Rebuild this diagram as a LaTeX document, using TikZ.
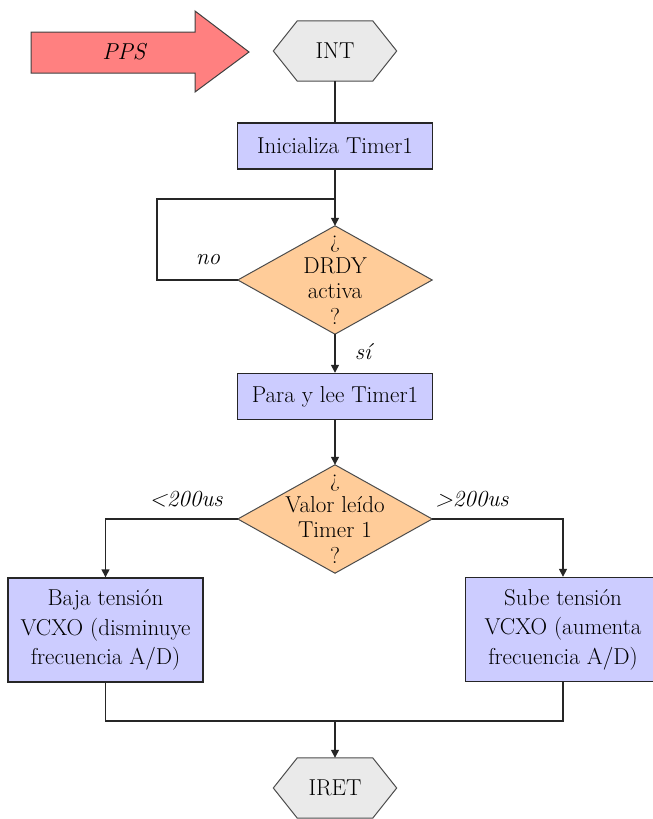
\documentclass[tikz,border=0pt]{standalone}
\usepackage{fontspec}
\usetikzlibrary{arrows.meta,backgrounds}
\definecolor{procblue}{HTML}{CCCCFF}
\definecolor{decorange}{HTML}{FFCC99}
\definecolor{hexgray}{HTML}{EAEAEA}
\definecolor{ppsred}{HTML}{FF8080}
\tikzset{
  conn/.style={draw=black!85, line width=1.4pt},
  arr/.style={conn, -{Triangle[length=8pt,width=8pt]}},
  proc/.style={draw=black!85, line width=1.4pt, fill=procblue, inner sep=0pt,
    minimum width=195pt, minimum height=46pt, align=center},
  bigproc/.style={proc, minimum height=104pt},
  decnode/.style={inner sep=0pt, minimum width=194pt, minimum height=108pt, align=center,
    font=\rmfamily\fontsize{23}{25.5}\selectfont},
  decshape/.style={draw=black!70, line width=1pt, fill=decorange},
  hexnode/.style={inner sep=0pt, minimum width=123pt, minimum height=60pt},
  hexshape/.style={draw=black!70, line width=1pt, fill=hexgray},
  lbl/.style={font=\rmfamily\fontsize{23}{25}\selectfont\itshape, inner sep=0pt}
}
\begin{document}
\begin{tikzpicture}[x=1pt,y=-1pt,font=\rmfamily\fontsize{23}{29.5}\selectfont]
\clip (0,0) rectangle (653,819);
% PPS arrow
\node[lbl] (pps) at (124,52) {PPS};
% INT
\node[hexnode] (int) at (335,51) {INT};
\node[proc] (init) at (335,146) {Inicializa Timer1};
\node[decnode] (d1) at (335,280) {¿\\DRDY\\activa\\?};
\node[proc] (para) at (335,396.5) {Para y lee Timer1};
\node[decnode] (d2) at (335,519) {¿\\Valor leído\\Timer 1\\?};
\node[bigproc] (baja) at (105.5,630) {Baja tensión\\VCXO (disminuye\\frecuencia A/D)};
\node[bigproc] (sube) at (563,629.5) {Sube tensión\\VCXO (aumenta\\frecuencia A/D)};
\node[hexnode] (iret) at (335,788) {IRET};
\coordinate (loopc) at (157,199);
\coordinate (join) at (335,199);
\coordinate (merge) at (335,721);
\begin{scope}[on background layer]
  \path[draw=black!75, line width=1pt, fill=ppsred]
    (31,32) -- (195,32) -- (195,11) -- (249,52) -- (195,92) -- (195,73) -- (31,73) -- cycle;
  \path[hexshape] (int.west) -- ([xshift=24pt]int.north west) -- ([xshift=-24pt]int.north east)
    -- (int.east) -- ([xshift=-24pt]int.south east) -- ([xshift=24pt]int.south west) -- cycle;
  \path[hexshape] (iret.west) -- ([xshift=24pt]iret.north west) -- ([xshift=-24pt]iret.north east)
    -- (iret.east) -- ([xshift=-24pt]iret.south east) -- ([xshift=24pt]iret.south west) -- cycle;
  \path[decshape] (d1.north) -- (d1.east) -- (d1.south) -- (d1.west) -- cycle;
  \path[decshape] (d2.north) -- (d2.east) -- (d2.south) -- (d2.west) -- cycle;
\end{scope}
% connectors
\draw[conn] (int.south) -- (init.north);
\draw[arr] (init.south) -- (d1.north);
\draw[conn] (d1.west) -| (loopc) -- (join);
\draw[arr] (d1.south) -- (para.north);
\draw[arr] (para.south) -- (d2.north);
\draw[arr] (d2.west) -| (baja.north);
\draw[arr] (d2.east) -| (sube.north);
\draw[conn] (baja.south) |- (merge);
\draw[conn] (sube.south) |- (merge);
\draw[arr] (merge) -- (iret.north);
% labels
\node[lbl] (lno) at (208,260) {no};
\node[lbl] (lsi) at (363,352) {sí};
\node[lbl] (llt) at (186,499) {<200us};
\node[lbl] (lgt) at (472,499) {>200us};
\end{tikzpicture}
\end{document}
